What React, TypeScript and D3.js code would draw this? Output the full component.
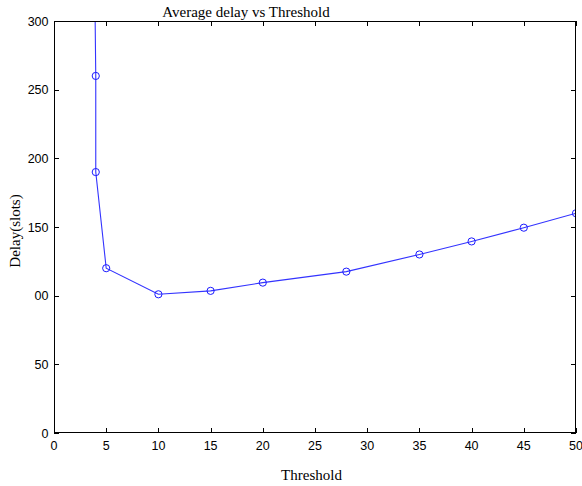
import React from "react";
import * as d3 from "d3";

const thresholds = [3.9, 4, 4, 5, 10, 15, 20, 28, 35, 40, 45, 50];
const delays = [330, 260, 190, 120, 101, 103.5, 109.5, 117.5, 130, 139.5, 149.5, 160];
const markerFrom = 1;
const xTicks = [0, 5, 10, 15, 20, 25, 30, 35, 40, 45, 50];
const yTicks = [0, 50, 100, 150, 200, 250, 300];
const yTickLabels = ["0", "50", "00", "150", "200", "250", "300"];
const title = "Average delay vs Threshold";
const xLabel = "Threshold";
const yLabel = "Delay(slots)";

export default function App() {
  const W = 582, H = 486;
  const L = 54, R = 576, T = 21, B = 433;
  const x = d3.scaleLinear().domain([0, 50]).range([L, R]);
  const y = d3.scaleLinear().domain([0, 300]).range([B, T]);
  const pts = thresholds.map((t, i) => [t, delays[i]] as [number, number]);
  const line = d3.line<[number, number]>().x(d => x(d[0])).y(d => y(d[1]));
  const tl = 5;
  const sans = "'Liberation Sans', Arial, sans-serif";
  const serif = "'Liberation Serif', 'Times New Roman', serif";
  return (
    <svg width={W} height={H} style={{ position: "absolute", left: 0, top: 0, background: "#fff" }}>
      <defs>
        <clipPath id="plot">
          <rect x={L} y={T} width={R - L} height={B - T} />
        </clipPath>
      </defs>
      <rect x={0} y={0} width={W} height={H} fill="#fff" />
      <g clipPath="url(#plot)">
        <path d={line(pts) || ""} fill="none" stroke="#3333ff" strokeWidth={1.1} />
        {pts.slice(markerFrom).map((p, i) => (
          <circle key={i} cx={x(p[0])} cy={y(p[1])} r={3.6} fill="none" stroke="#1a1aff" strokeWidth={1} />
        ))}
      </g>
      <rect x={L + 0.5} y={T + 0.5} width={R - L - 1} height={B - T - 1} fill="none" stroke="#000" strokeWidth={1} />
      {xTicks.map(t => (
        <g key={"x" + t}>
          <line x1={Math.round(x(t)) + 0.5} x2={Math.round(x(t)) + 0.5} y1={B} y2={B - tl} stroke="#000" />
          <line x1={Math.round(x(t)) + 0.5} x2={Math.round(x(t)) + 0.5} y1={T} y2={T + tl} stroke="#000" />
          <text x={x(t)} y={450} fontFamily={sans} fontSize={12.5} textAnchor="middle" fill="#000">{t}</text>
        </g>
      ))}
      {yTicks.map((t, i) => (
        <g key={"y" + t}>
          <line x1={L} x2={L + tl} y1={Math.round(y(t)) + 0.5} y2={Math.round(y(t)) + 0.5} stroke="#000" />
          <line x1={R} x2={R - tl} y1={Math.round(y(t)) + 0.5} y2={Math.round(y(t)) + 0.5} stroke="#000" />
          <text x={L - 5.5} y={y(t)} dy="0.36em" fontFamily={sans} fontSize={12.5} textAnchor="end" fill="#000">{yTickLabels[i]}</text>
        </g>
      ))}
      <text x={246} y={16.5} fontFamily={serif} fontSize={15} textAnchor="middle" fill="#000">{title}</text>
      <text x={311.5} y={480} fontFamily={serif} fontSize={15} textAnchor="middle" fill="#000">{xLabel}</text>
      <text transform={`translate(20,231) rotate(-90)`} fontFamily={serif} fontSize={15} textAnchor="middle" fill="#000">{yLabel}</text>
    </svg>
  );
}
